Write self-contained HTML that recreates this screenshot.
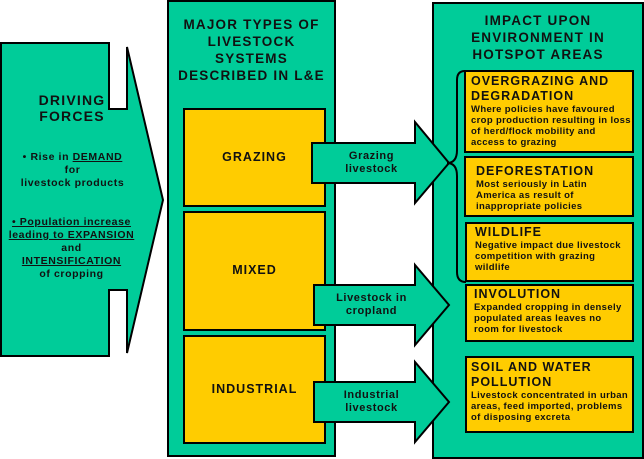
<!DOCTYPE html>
<html><head><style>
body{margin:0;width:644px;height:459px;background:#fff;position:relative;overflow:hidden;font-family:"Liberation Sans",Arial,sans-serif;font-weight:bold;color:#111}
svg{position:absolute;left:0;top:0}
.t{position:absolute;text-align:center;white-space:nowrap}
.b{position:absolute;white-space:nowrap}
.h{font-size:13.5px;letter-spacing:1.2px;line-height:16px}
.bt{font-size:12.5px;letter-spacing:1px;line-height:15px}
.s{font-size:9.5px;line-height:11px;letter-spacing:0.35px}
u{text-decoration:underline}
</style></head><body>
<svg width="644" height="459">
<g stroke="#000" stroke-width="2" fill="#00cc99">
<polygon points="1,43 109,43 109,109 127,109 127,47 163,200 127,353 127,290 109,290 109,356 1,356"/>
<rect x="168" y="1" width="167" height="455"/>
<rect x="433" y="3" width="210" height="455"/>
</g>
<g stroke="#000" stroke-width="2" fill="#ffcc00">
<rect x="184" y="109" width="141" height="97"/>
<rect x="184" y="212" width="141" height="118"/>
<rect x="184" y="336" width="141" height="107"/>
<rect x="465" y="71" width="168" height="81"/>
<rect x="465" y="157" width="168" height="59"/>
<rect x="466" y="223" width="167" height="58"/>
<rect x="466" y="285" width="167" height="56"/>
<rect x="466" y="357" width="167" height="75"/>
</g>
<g stroke="#000" stroke-width="2" fill="#00cc99">
<polygon points="312,143 415,143 415,122 449,163 415,203 415,183 312,183"/>
<polygon points="314,285 415,285 415,265 449,305 415,345 415,325 314,325"/>
<polygon points="314,382 415,382 415,362 449,402 415,442 415,422 314,422"/>
</g>
<path d="M465,71 Q457,71 457,80 L457,150 Q457,163 447,163 Q457,163 457,176 L457,272 Q457,282 466,282" fill="none" stroke="#000" stroke-width="2"/>
</svg>
<div class="t h" style="left:17px;top:92px;width:110px;font-size:14px">DRIVING<br>FORCES</div>
<div class="t" style="left:0;top:151px;width:145px;font-size:10.5px;line-height:13px;letter-spacing:0.6px">• Rise in <u>DEMAND</u><br>for<br>livestock products</div>
<div class="t" style="left:0;top:216px;width:143px;font-size:10.5px;line-height:13px;letter-spacing:0.6px"><u>• Population increase</u><br><u>leading to EXPANSION</u><br>and<br><u>INTENSIFICATION</u><br>of cropping</div>
<div class="t h" style="left:168px;top:16px;width:167px;line-height:17px">MAJOR TYPES OF<br>LIVESTOCK<br>SYSTEMS<br>DESCRIBED IN L&amp;E</div>
<div class="t" style="left:184px;top:150px;width:141px;font-size:12.5px;letter-spacing:1px">GRAZING</div>
<div class="t" style="left:184px;top:263px;width:141px;font-size:12.5px;letter-spacing:1px">MIXED</div>
<div class="t" style="left:184px;top:382px;width:141px;font-size:12.5px;letter-spacing:1px">INDUSTRIAL</div>
<div class="t" style="left:320px;top:150px;width:103px;font-size:11px;line-height:13px;letter-spacing:0.6px">Grazing<br>livestock</div>
<div class="t" style="left:320px;top:292px;width:103px;font-size:11px;line-height:13px;letter-spacing:0.6px">Livestock in<br>cropland</div>
<div class="t" style="left:320px;top:389px;width:103px;font-size:11px;line-height:13px;letter-spacing:0.6px">Industrial<br>livestock</div>
<div class="t h" style="left:433px;top:12px;width:210px;line-height:17px">IMPACT UPON<br>ENVIRONMENT IN<br>HOTSPOT AREAS</div>
<div class="b" style="left:471px;top:74px"><div class="bt">OVERGRAZING AND<br>DEGRADATION</div><div class="s">Where policies have favoured<br>crop production resulting in loss<br>of herd/flock mobility and<br>access to grazing</div></div>
<div class="b" style="left:476px;top:164px"><div class="bt">DEFORESTATION</div><div class="s">Most seriously in Latin<br>America as result of<br>inappropriate policies</div></div>
<div class="b" style="left:475px;top:225px"><div class="bt">WILDLIFE</div><div class="s">Negative impact due livestock<br>competition with grazing<br>wildlife</div></div>
<div class="b" style="left:474px;top:287px"><div class="bt">INVOLUTION</div><div class="s">Expanded cropping in densely<br>populated areas leaves no<br>room for livestock</div></div>
<div class="b" style="left:471px;top:360px"><div class="bt">SOIL AND WATER<br>POLLUTION</div><div class="s">Livestock concentrated in urban<br>areas, feed imported, problems<br>of disposing excreta</div></div>
</body></html>
